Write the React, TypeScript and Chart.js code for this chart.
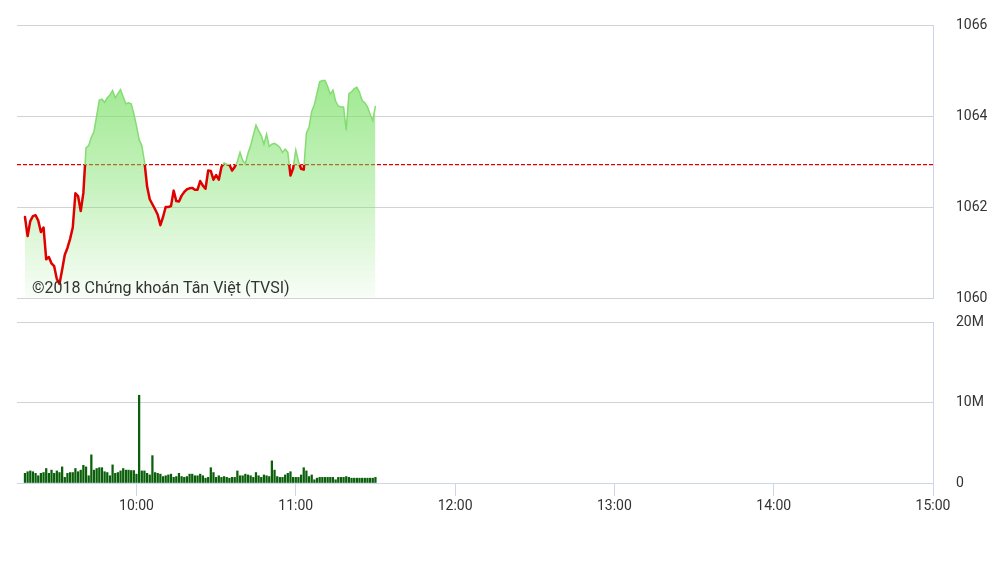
import React, { useEffect, useRef } from "react";
import { Chart, registerables } from "chart.js";

Chart.register(...registerables);

// ---- data ----
const START_TIME = "9:18";
const AXIS_START = "9:15";
const AXIS_END = "15:00";
const HOUR_TICKS = ["10:00", "11:00", "12:00", "13:00", "14:00", "15:00"];
const PRICE_TICKS = [1060, 1062, 1064, 1066];
const VOLUME_TICKS = [0, 10, 20]; // millions
const VOLUME_LABELS = ["0", "10M", "20M"];
const REFERENCE = 1062.93;
const WATERMARK = "©2018 Chứng khoán Tân Việt (TVSI)";

// one value per minute from 9:18
const price = [
  1061.78, 1061.36, 1061.69, 1061.8, 1061.82, 1061.7, 1061.45, 1061.55, 1060.85, 1060.9,
  1060.76, 1060.7, 1060.42, 1060.31, 1060.62, 1060.95, 1061.1, 1061.3, 1061.55, 1062.3,
  1062.24, 1061.91, 1062.31, 1063.3, 1063.35, 1063.53, 1063.66, 1064.0, 1064.35, 1064.37,
  1064.3, 1064.4, 1064.46, 1064.56, 1064.4, 1064.49, 1064.58, 1064.42, 1064.27, 1064.29,
  1064.27, 1064.05, 1063.78, 1063.48, 1063.35, 1063.0, 1062.45, 1062.17, 1062.06, 1061.95,
  1061.83, 1061.6, 1061.78, 1062.0, 1062.0, 1062.02, 1062.36, 1062.13, 1062.12, 1062.25,
  1062.33, 1062.39, 1062.41, 1062.42, 1062.38, 1062.38, 1062.57, 1062.47, 1062.4, 1062.8,
  1062.79, 1062.6, 1062.7, 1062.6, 1062.88, 1062.97, 1062.94, 1062.93, 1062.8, 1062.88,
  1063.0, 1063.2, 1063.02, 1062.95, 1063.18, 1063.35, 1063.58, 1063.8, 1063.68, 1063.57,
  1063.38, 1063.6, 1063.33, 1063.38, 1063.4, 1063.36, 1063.31, 1063.2, 1063.27, 1063.2,
  1062.69, 1062.85, 1063.25, 1063.0, 1062.84, 1062.82, 1063.62, 1063.76, 1064.1, 1064.25,
  1064.5, 1064.75, 1064.78, 1064.78, 1064.65, 1064.48, 1064.57, 1064.33, 1064.22, 1064.2,
  1064.2, 1063.69, 1064.49, 1064.53, 1064.6, 1064.63, 1064.52, 1064.34, 1064.29, 1064.2,
  1064.04, 1063.9, 1064.22,
];

// volume in millions, one bar per minute from 9:18
const volume = [
  1.2, 1.4, 1.5, 1.4, 1.2, 0.9, 1.2, 1.3, 1.8, 1.2,
  1.6, 1.2, 1.5, 1.3, 2.0, 0.7, 1.2, 1.3, 1.3, 1.8,
  1.4, 1.6, 2.2, 2.0, 0.9, 3.5, 1.6, 1.8, 1.9, 1.9,
  1.4, 1.3, 0.9, 2.25, 1.2, 1.3, 1.5, 1.8, 1.6, 1.6,
  1.55, 1.55, 1.1, 10.9, 1.5, 1.5, 1.2, 1.0, 3.4, 1.3,
  1.2, 1.1, 0.8, 0.9, 1.0, 1.1, 0.7, 0.8, 1.2, 0.8,
  0.7, 0.8, 1.1, 1.1, 0.9, 0.9, 1.1, 0.9, 0.6, 0.7,
  1.9, 1.3, 0.7, 0.9, 0.7, 0.8, 0.7, 0.6, 0.7, 0.7,
  1.5, 0.9, 0.9, 1.1, 1.0, 0.9, 0.7, 1.3, 0.9, 0.7,
  1.0, 0.9, 0.8, 2.75, 1.6, 0.8, 0.7, 0.7, 1.0, 1.2,
  1.4, 0.7, 0.7, 0.7, 1.0, 1.9, 1.5, 0.8, 1.0, 0.4,
  0.6, 0.7, 0.7, 0.7, 0.7, 0.7, 0.7, 0.4, 0.7, 0.7,
  0.7, 0.8, 0.7, 0.6, 0.6, 0.6, 0.6, 0.6, 0.6, 0.6,
  0.6, 0.6, 0.7,
];

// ---- helpers ----
const toMin = (s: string) => {
  const [h, m] = s.split(":").map(Number);
  return h * 60 + m;
};
const fmt = (v: number) => {
  const h = Math.floor(v / 60);
  const m = Math.round(v - h * 60);
  return `${h}:${m < 10 ? "0" : ""}${m}`;
};

const W = 1005;
const H = 564;
const LEFT = 17;
const AXIS_W = 72;
const FONT = { family: "Roboto", size: 14 };
const GRID = "#d3d3d3";
const AXIS_LINE = "#ccd6eb";
const LABEL = "#333333";
const RED = "#e00000";

function splitGradient(chart: any, above: string, below: string) {
  const a = chart.chartArea;
  const ys = chart.scales && chart.scales.y;
  if (!a || !ys) return below;
  const yRef = ys.getPixelForValue(REFERENCE);
  const f = Math.min(1, Math.max(0, (yRef - a.top) / (a.bottom - a.top)));
  const g = chart.ctx.createLinearGradient(0, a.top, 0, a.bottom);
  g.addColorStop(0, above);
  g.addColorStop(f, above);
  g.addColorStop(f, below);
  g.addColorStop(1, below);
  return g;
}

const fixRightAxis = (s: any) => {
  s.width = AXIS_W;
  s.paddingTop = 0;
  s.paddingBottom = 0;
};

export default function App() {
  const topRef = useRef<HTMLCanvasElement | null>(null);
  const botRef = useRef<HTMLCanvasElement | null>(null);

  useEffect(() => {
    const x0 = toMin(AXIS_START);
    const x1 = toMin(AXIS_END);
    const t0 = toMin(START_TIME);
    const pricePts = price.map((v, i) => ({ x: t0 + i, y: v }));
    const volPts = volume.map((v, i) => ({ x: t0 + i, y: v }));

    const watermark = {
      id: "watermark",
      afterDatasetsDraw(chart: any) {
        const c = chart.ctx;
        c.save();
        c.font = "16px Roboto";
        c.fillStyle = "#333333";
        c.textBaseline = "alphabetic";
        c.textAlign = "left";
        c.fillText(WATERMARK, 32, 293);
        c.restore();
      },
    };

    const top = new Chart(topRef.current as HTMLCanvasElement, {
      type: "line",
      data: {
        datasets: [
          {
            data: pricePts,
            borderColor: (ctx: any) => splitGradient(ctx.chart, "rgba(0,0,0,0)", RED),
            borderWidth: 2.5,
            pointRadius: 0,
            fill: false,
            tension: 0,
            borderJoinStyle: "round",
            borderCapStyle: "round",
            order: 0,
          },
          {
            data: pricePts,
            borderColor: (ctx: any) => splitGradient(ctx.chart, "#84dc72", "rgba(0,0,0,0)"),
            borderWidth: 1.5,
            pointRadius: 0,
            tension: 0,
            fill: "start",
            backgroundColor: (ctx: any) => {
              const a = ctx.chart.chartArea;
              if (!a) return "rgba(120,224,100,0.4)";
              const g = ctx.chart.ctx.createLinearGradient(0, a.top, 0, a.bottom);
              g.addColorStop(0, "rgba(120,224,100,0.85)");
              g.addColorStop(0.55, "rgba(120,224,100,0.45)");
              g.addColorStop(1, "rgba(120,224,100,0.05)");
              return g;
            },
            order: 1,
          },
          {
            data: [
              { x: x0, y: REFERENCE },
              { x: x1, y: REFERENCE },
            ],
            borderColor: RED,
            backgroundColor: RED,
            borderWidth: 1.2,
            borderDash: [4, 2],
            pointRadius: 0,
            fill: false,
            order: 2,
          },
        ],
      } as any,
      options: {
        animation: false,
        responsive: false,
        maintainAspectRatio: false,
        events: [],
        layout: { padding: { left: LEFT, top: 25, bottom: H - 298, right: 0 } },
        plugins: { legend: { display: false }, tooltip: { enabled: false } },
        scales: {
          x: { type: "linear", min: x0, max: x1, display: false },
          y: {
            position: "right",
            min: PRICE_TICKS[0],
            max: PRICE_TICKS[PRICE_TICKS.length - 1],
            afterBuildTicks: (s: any) => {
              s.ticks = PRICE_TICKS.map((v) => ({ value: v }));
            },
            afterFit: fixRightAxis,
            grid: { color: GRID, drawTicks: false, lineWidth: 1 },
            border: { display: true, color: AXIS_LINE },
            ticks: {
              padding: 23,
              color: LABEL,
              font: FONT,
              callback: (v: any) => String(v),
            },
          },
        },
      } as any,
      plugins: [watermark],
    });

    const bot = new Chart(botRef.current as HTMLCanvasElement, {
      type: "bar",
      data: {
        datasets: [
          {
            data: volPts,
            backgroundColor: "#0a600a",
            borderWidth: 0,
            barThickness: 1.6,
          },
        ],
      } as any,
      options: {
        animation: false,
        responsive: false,
        maintainAspectRatio: false,
        events: [],
        layout: { padding: { left: LEFT, top: 322, bottom: H - 483 - 30, right: 0 } },
        plugins: { legend: { display: false }, tooltip: { enabled: false } },
        scales: {
          x: {
            type: "linear",
            min: x0,
            max: x1,
            offset: false,
            afterBuildTicks: (s: any) => {
              s.ticks = HOUR_TICKS.map((t) => ({ value: toMin(t) }));
            },
            afterFit: (s: any) => {
              s.height = 30;
            },
            grid: {
              drawOnChartArea: false,
              drawTicks: true,
              tickLength: 13,
              color: AXIS_LINE,
              offset: false,
            },
            border: { display: true, color: AXIS_LINE },
            ticks: {
              padding: 2,
              color: LABEL,
              font: FONT,
              maxRotation: 0,
              autoSkip: false,
              callback: (v: any) => fmt(Number(v)),
            },
          },
          y: {
            position: "right",
            min: VOLUME_TICKS[0],
            max: VOLUME_TICKS[VOLUME_TICKS.length - 1],
            afterBuildTicks: (s: any) => {
              s.ticks = VOLUME_TICKS.map((v) => ({ value: v }));
            },
            afterFit: fixRightAxis,
            grid: { color: GRID, drawTicks: false, lineWidth: 1 },
            border: { display: true, color: AXIS_LINE },
            ticks: {
              padding: 23,
              color: LABEL,
              font: FONT,
              callback: (v: any) => {
                const i = VOLUME_TICKS.indexOf(Number(v));
                return i >= 0 ? VOLUME_LABELS[i] : "";
              },
            },
          },
        },
      } as any,
    });

    return () => {
      top.destroy();
      bot.destroy();
    };
  }, []);

  const cs: React.CSSProperties = { position: "absolute", left: 0, top: 0, width: W, height: H };
  return (
    <div style={{ position: "absolute", left: 0, top: 0, width: W, height: H, background: "#fff" }}>
      <canvas ref={botRef} width={W} height={H} style={cs} />
      <canvas ref={topRef} width={W} height={H} style={cs} />
    </div>
  );
}
